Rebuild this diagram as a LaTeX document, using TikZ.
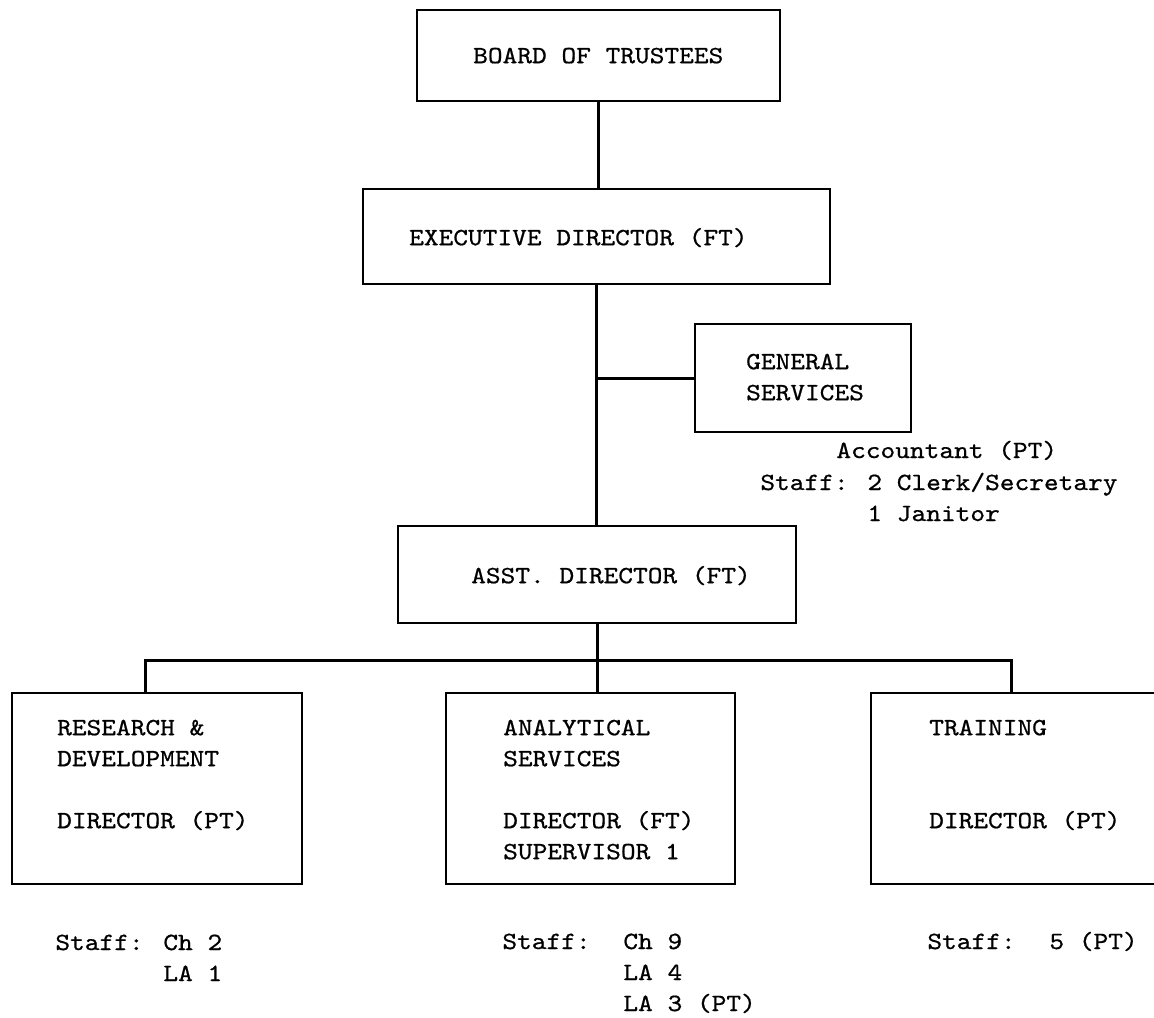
\documentclass[tikz,border=0pt]{standalone}
\usepackage{fontspec}
\newfontfamily\typewr{lmmono10-regular.otf}[FakeStretch=1.13, FakeBold=0.7]
\begin{document}
\begin{tikzpicture}[x=0.5pt,y=-0.5pt,
    every node/.style={font=\typewr\fontsize{12.4pt}{15.5pt}\selectfont, inner sep=0pt,
      execute at begin node={\spaceskip=7.36pt\relax}},
    orgbox/.style={draw, line width=1.2pt, anchor=north west, align=left,
      execute at begin node={\leftskip=#1\relax}},
    orgbox/.default=0pt,
    tag/.style={anchor=base west},
    column/.style={anchor=base west, align=left, text width=#1},
    link/.style={line width=1.5pt}]
  \useasboundingbox (0,0) rectangle (1154,1017);
  % top of the chart
  \node[orgbox=28pt, text width=181.5pt, text height=26.5pt, text depth=19pt] (board) at (416,9) {BOARD OF TRUSTEES};
  \node[orgbox=23pt, text width=233.5pt, text height=28pt, text depth=19.5pt] (exec) at (362,188) {EXECUTIVE DIRECTOR (FT)};
  \node[orgbox=25.5pt, text width=108pt, text height=22.5pt, text depth=31.5pt] (gensvc) at (694,323) {GENERAL\\SERVICES};
  \node[orgbox=36.5pt, text width=199pt, text height=28.5pt, text depth=20pt] (asst) at (397,525) {ASST. DIRECTOR (FT)};
  \node[tag] (acct) at (836,458) {Accountant (PT)};
  \node[tag] (gstaff) at (760,490) {Staff:};
  \node[column=130pt] (glist) at (867,490) {2 Clerk/Secretary\\1 Janitor};
  % the three divisions
  \node[orgbox=22.5pt, text width=145pt, text height=21pt, text depth=74.5pt] (rnd) at (11,692) {RESEARCH \&\\DEVELOPMENT\\[15.5pt]DIRECTOR (PT)};
  \node[orgbox=28.5pt, text width=144.5pt, text height=21pt, text depth=74.5pt] (anl) at (445,692) {ANALYTICAL\\SERVICES\\[15.5pt]DIRECTOR (FT)\\SUPERVISOR 1};
  \node[orgbox=29pt, text width=150pt, text height=21pt, text depth=74.5pt] (trn) at (870,692) {TRAINING\\[31pt]DIRECTOR (PT)};
  \node[tag] (rstaff) at (55,950) {Staff:};
  \node[column=60pt] (rlist) at (163,950) {Ch 2\\LA 1};
  \node[tag] (astaff) at (502,949) {Staff:};
  \node[column=80pt] (alist) at (623,949) {Ch 9\\LA 4\\LA 3 (PT)};
  \node[tag] (tstaff) at (927,949) {Staff:};
  \node[tag] (tlist) at (1049,949) {5 (PT)};
  % connectors
  \coordinate (gsj) at (exec.south |- gensvc.west);
  \coordinate (busl) at (145,660);
  \coordinate (busr) at (1011,660);
  \draw[link] (board.south) -- (board.south |- exec.north);
  \draw[link] (exec.south) -- (exec.south |- asst.north);
  \draw[link] (gsj) -- (gensvc.west);
  \draw[link] (asst.south) -- (asst.south |- anl.north);
  \draw[link] (busl |- rnd.north) -- (busl) -- (busr) -- (busr |- trn.north);
\end{tikzpicture}
\end{document}
